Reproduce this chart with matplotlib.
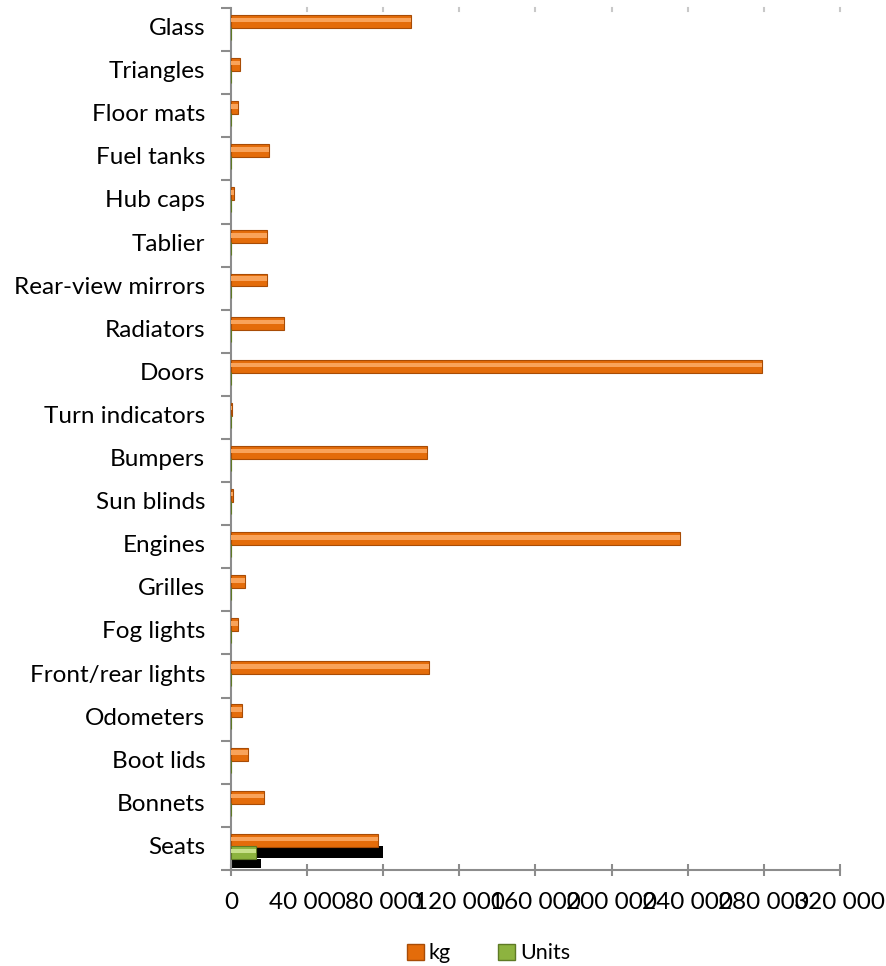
import numpy as np
import matplotlib.pyplot as plt
from matplotlib.ticker import FuncFormatter
from matplotlib.transforms import ScaledTranslation

categories = ['Seats', 'Bonnets', 'Boot lids', 'Odometers', 'Front/rear lights',
              'Fog lights', 'Grilles', 'Engines', 'Sun blinds', 'Bumpers',
              'Turn indicators', 'Doors', 'Radiators', 'Rear-view mirrors',
              'Tablier', 'Hub caps', 'Fuel tanks', 'Floor mats', 'Triangles', 'Glass']
kg = [77000, 17500, 9000, 5800, 104000, 3700, 7400, 236000, 1000, 103000,
      500, 279000, 28000, 19000, 19000, 1600, 20000, 3700, 4700, 94600]
units = [13000] + [0] * 19
# dark rendering artefacts visible on the Seats row
shadow_units = [80000] + [0] * 19
shadow_low = [16000] + [0] * 19
xticks = np.arange(0, 320001, 40000)

plt.rcParams['font.family'] = ['Lato', 'DejaVu Sans']

fig = plt.figure(figsize=(8.87, 9.66), dpi=100)
ax = fig.add_axes([0.2604, 0.0994, 0.6866, 0.8923])

y = np.arange(len(categories))
h = 0.30
orange, orange_lt, orange_dk = '#E46C0A', '#F9A35A', '#A84C06'
green, green_lt, green_dk = '#8DB33F', '#C8E08A', '#5E7A25'

# kg series
ax.barh(y + 0.19, kg, height=h, color=orange, edgecolor=orange_dk, linewidth=0.8, zorder=3)
ax.barh(y + 0.22, kg, height=h * 0.35, color=orange_lt, linewidth=0, zorder=4)

# shadows and units series
ax.barh(y - 0.09, shadow_units, height=h * 0.95, color='black', zorder=2)
ax.barh(y - 0.36, shadow_low, height=h * 0.7, color='black', zorder=2)
ax.barh(y - 0.09, units, height=h, color=green, edgecolor=green_dk, linewidth=0.8, zorder=3)
ax.barh(y - 0.06, units, height=h * 0.35, color=green_lt, linewidth=0, zorder=4)

ax.set_ylim(-0.5, len(categories) - 0.5)
ax.set_xlim(0, 320000)
ax.set_yticks(y)
ax.set_yticklabels(categories, fontsize=17.5)
ax.set_yticks(np.arange(-0.5, len(categories), 1), minor=True)
ax.tick_params(axis='y', which='major', length=0, pad=18.5)
ax.tick_params(axis='y', which='minor', length=7, width=1.5, color='#8C8C8C')
shift = ScaledTranslation(0, 3 / 100, fig.dpi_scale_trans)
for lab in ax.get_yticklabels():
    lab.set_transform(lab.get_transform() + shift)

ax.set_xticks(xticks)
ax.xaxis.set_major_formatter(FuncFormatter(lambda v, p: f'{int(v):,}'.replace(',', ' ')))
ax.tick_params(axis='x', labelsize=17.5, length=8, width=1.5, color='#8C8C8C',
               direction='inout', pad=12)

for s in ['top', 'right']:
    ax.spines[s].set_visible(False)
for s in ['left', 'bottom']:
    ax.spines[s].set_color('#8C8C8C')
    ax.spines[s].set_linewidth(1.5)

# faint tick stubs along top of the plot area
for xv in xticks[1:]:
    ax.plot([xv, xv], [19.42, 19.5], color='#C8C8C8', lw=1.5, clip_on=False)

handles = [plt.Rectangle((0, 0), 1, 1, facecolor=orange, edgecolor=orange_dk),
           plt.Rectangle((0, 0), 1, 1, facecolor=green, edgecolor=green_dk)]
fig.legend(handles, ['kg', 'Units'], loc='center', bbox_to_anchor=(0.551, 0.013),
           ncol=2, frameon=False, fontsize=15.5, handlelength=0.75, handleheight=0.75,
           handletextpad=0.25, columnspacing=2.2)

fig.savefig('out.png', dpi=100)
